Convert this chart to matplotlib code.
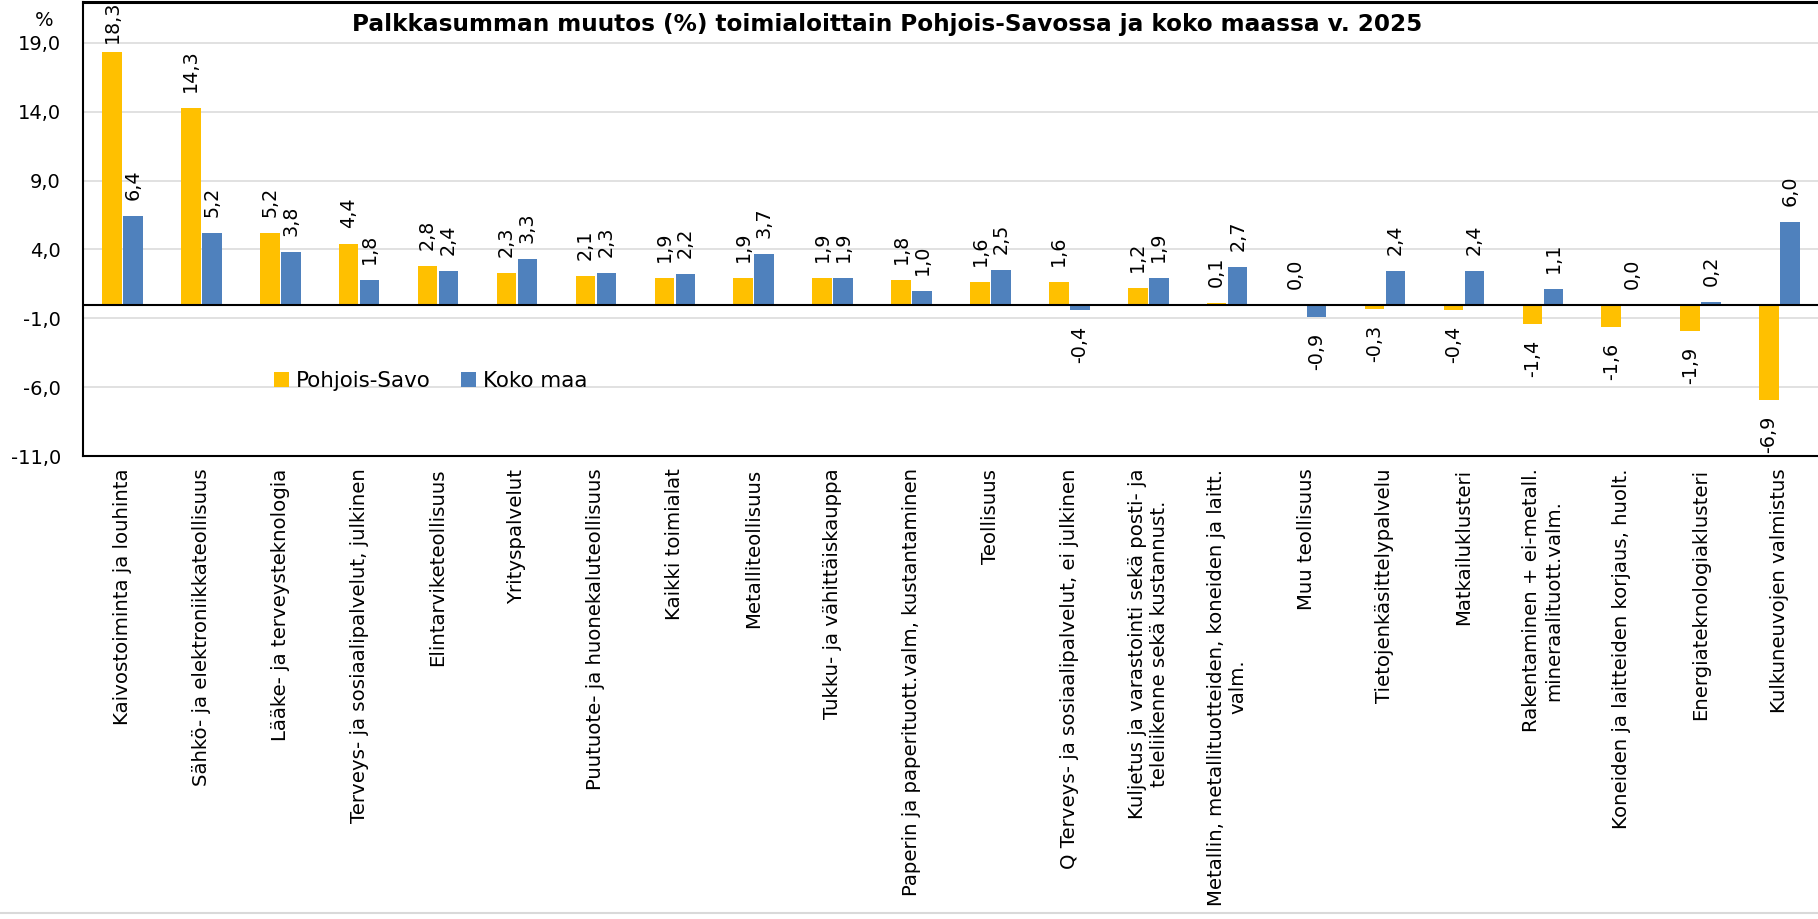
import matplotlib
matplotlib.use("Agg")
import matplotlib.pyplot as plt
from matplotlib.patches import Patch
from matplotlib.lines import Line2D
import numpy as np

plt.rcParams['font.family'] = ['DejaVu Sans']

categories = [
    "Kaivostoiminta ja louhinta",
    "Sähkö- ja elektroniikkateollisuus",
    "Lääke- ja terveysteknologia",
    "Terveys- ja sosiaalipalvelut, julkinen",
    "Elintarviketeollisuus",
    "Yrityspalvelut",
    "Puutuote- ja huonekaluteollisuus",
    "Kaikki toimialat",
    "Metalliteollisuus",
    "Tukku- ja vähittäiskauppa",
    "Paperin ja paperituott.valm, kustantaminen",
    "Teollisuus",
    "Q Terveys- ja sosiaalipalvelut, ei julkinen",
    "Kuljetus ja varastointi sekä posti- ja\nteleliikenne sekä kustannust.",
    "Metallin, metallituotteiden, koneiden ja laitt.\nvalm.",
    "Muu teollisuus",
    "Tietojenkäsittelypalvelu",
    "Matkailuklusteri",
    "Rakentaminen + ei-metall.\nmineraalituott.valm.",
    "Koneiden ja laitteiden korjaus, huolt.",
    "Energiateknologiaklusteri",
    "Kulkuneuvojen valmistus",
]

pohjois_savo = [18.3, 14.3, 5.2, 4.4, 2.8, 2.3, 2.1, 1.9, 1.9, 1.9, 1.8, 1.6,
                1.6, 1.2, 0.1, 0.0, -0.3, -0.4, -1.4, -1.6, -1.9, -6.9]
koko_maa = [6.4, 5.2, 3.8, 1.8, 2.4, 3.3, 2.3, 2.2, 3.7, 1.9, 1.0, 2.5,
            -0.4, 1.9, 2.7, -0.9, 2.4, 2.4, 1.1, 0.0, 0.2, 6.0]

series_names = ["Pohjois-Savo", "Koko maa"]
y_ticks = [-11, -6, -1, 4, 9, 14, 19]

YELLOW = "#FFC000"
BLUE = "#4F81BD"
GRID = "#d9d9d9"

W, H = 1818, 919
fig = plt.figure(figsize=(W / 100, H / 100), dpi=100)
ax = fig.add_axes([83 / W, (H - 456) / H, (1819 - 83) / W, (456 - 1.5) / H])

x = np.arange(len(categories))
bw = 0.247
off = 0.133
ax.bar(x - off, pohjois_savo, bw, color=YELLOW, zorder=2)
ax.bar(x + off, koko_maa, bw, color=BLUE, zorder=2)

ax.set_xlim(-0.5, len(categories) - 0.5)
ax.set_ylim(-11, 22)
ax.set_yticks(y_ticks)
ax.set_yticklabels([f"{t:.1f}".replace(".", ",") for t in y_ticks], fontsize=14)
ax.tick_params(axis="y", length=0, pad=16)
ax.set_xticks(x)
ax.set_xticklabels(categories, rotation=90, fontsize=14.2, va="top", ha="center",
                   multialignment="center", linespacing=1.2)
ax.tick_params(axis="x", length=0, pad=9)

ax.set_axisbelow(True)
ax.yaxis.grid(True, color=GRID, linewidth=1.1)
ax.axhline(0, color="black", linewidth=1.5, zorder=3)

for side in ("left", "bottom"):
    ax.spines[side].set_linewidth(1.5)
    ax.spines[side].set_color("black")
ax.spines["top"].set_linewidth(2.2)
ax.spines["right"].set_visible(False)

# value labels, rotated, just outside each bar end
anns = []
for xs, vals in ((x - off, pohjois_savo), (x + off, koko_maa)):
    for xi, v in zip(xs, vals):
        up = v >= 0
        a = ax.annotate(f"{v:.1f}".replace(".", ","), xy=(xi, v),
                        xytext=(0, 11.5 if up else -11.5), textcoords="offset points",
                        rotation=90, ha="center", va="bottom" if up else "top",
                        fontsize=13.8, color="black", zorder=4)
        anns.append(a)

ax.legend(handles=[Patch(facecolor=YELLOW), Patch(facecolor=BLUE)],
          labels=series_names, loc="center left",
          bbox_to_anchor=(274 / W, 1 - 381 / H), bbox_transform=fig.transFigure,
          ncol=2, frameon=False, fontsize=15.4, handlelength=0.7, handleheight=0.7,
          handletextpad=0.33, columnspacing=1.4, borderpad=0, borderaxespad=0)

fig.text(887 / W, 1 - 31 / H,
         "Palkkasumman muutos (%) toimialoittain Pohjois-Savossa ja koko maassa v. 2025",
         ha="center", va="baseline", fontsize=16.7, fontweight="bold")
fig.text(44 / W, 1 - 21 / H, "%", ha="center", va="center", fontsize=14)

fig.add_artist(Line2D([0, 1], [1 - 913 / H, 1 - 913 / H], transform=fig.transFigure,
                      color=GRID, linewidth=1.5))

# keep labels inside the plot area
fig.canvas.draw()
r = fig.canvas.get_renderer()
abox = ax.get_window_extent(r)
top = abox.y1 + 1
bottom = abox.y0 + 1
for a in anns:
    bb = a.get_window_extent(r)
    dx, dy = a.xyann
    if bb.y1 > top:
        a.xyann = (dx, dy - (bb.y1 - top) * 72 / fig.dpi)
    elif bb.y0 < bottom:
        a.xyann = (dx, dy + (bottom - bb.y0) * 72 / fig.dpi)

fig.savefig("out.png", dpi=100)
